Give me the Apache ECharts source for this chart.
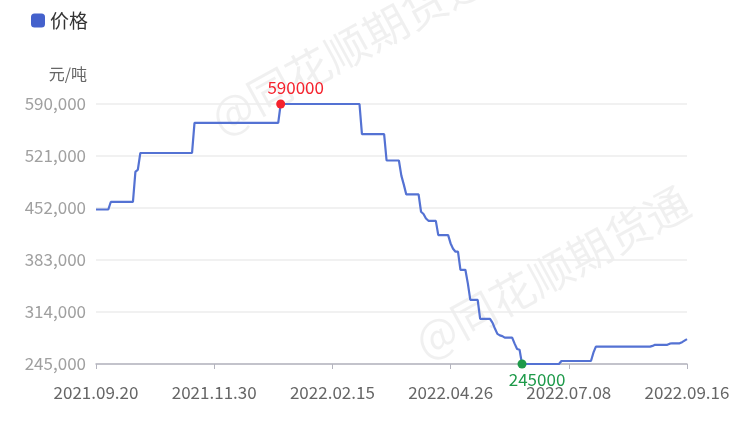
<!DOCTYPE html>
<html>
<head>
<meta charset="utf-8">
<script src="https://cdn.jsdelivr.net/npm/echarts@6/dist/echarts.min.js"></script>
<style>
html,body{margin:0;padding:0;background:#fff;}
#chart{width:750px;height:421px;}
</style>
</head>
<body>
<div id="chart"></div>
<script>
// Tick labels shown on the x axis
var tickLabels = ['2021.09.20', '2021.11.30', '2022.02.15', '2022.04.26', '2022.07.08', '2022.09.16'];
// Y axis ticks
var yMin = 245000, yMax = 590000, yStep = 69000;
// Days without a quote
var skipDays = ['2021-10-01', '2021-10-04', '2021-10-05',
  '2021-12-31', '2022-01-03', '2022-01-31', '2022-02-01', '2022-02-02', '2022-02-03', '2022-02-04',
  '2022-04-04', '2022-04-05',
  '2022-05-02', '2022-05-03', '2022-05-04', '2022-05-05', '2022-06-03',
  '2022-09-09', '2022-09-12'];
// Price series (元/吨), one value per quote day
var prices = [
  450000, 450000, 450000, 450000, 450000, 450000,
  460000, 460000, 460000, 460000, 460000, 460000, 460000, 460000, 460000, 460000,
  500000, 503000,
  525000, 525000, 525000, 525000, 525000, 525000, 525000, 525000, 525000, 525000, 525000,
  525000, 525000, 525000, 525000, 525000, 525000, 525000, 525000, 525000, 525000, 525000,
  565000, 565000, 565000, 565000, 565000, 565000, 565000, 565000, 565000, 565000,
  565000, 565000, 565000, 565000, 565000, 565000, 565000, 565000, 565000, 565000,
  565000, 565000, 565000, 565000, 565000, 565000, 565000, 565000, 565000, 565000,
  565000, 565000, 565000, 565000, 565000,
  590000, 590000, 590000, 590000, 590000, 590000, 590000, 590000, 590000, 590000, 590000,
  590000, 590000, 590000, 590000, 590000, 590000, 590000, 590000, 590000, 590000, 590000,
  590000, 590000, 590000, 590000, 590000, 590000, 590000, 590000, 590000, 590000, 590000,
  550000, 550000, 550000, 550000, 550000, 550000, 550000, 550000, 550000, 550000,
  515000, 515000, 515000, 515000, 515000, 515000,
  495000, 483000,
  470000, 470000, 470000, 470000, 470000, 470000,
  447000, 444000, 438000,
  435000, 435000, 435000, 435000,
  416000, 416000, 416000, 416000, 416000,
  405000, 398000, 394000, 394000,
  370000, 370000, 370000,
  352000,
  330000, 330000, 330000, 330000,
  305000, 305000, 305000, 305000, 305000,
  300000, 292000, 285000, 283000, 282000,
  280000, 280000, 280000, 280000,
  272000, 265000, 264000,
  245000, 245000, 245000, 245000, 245000, 245000, 245000, 245000,
  245000, 245000, 245000, 245000, 245000, 245000, 245000, 245000,
  249000, 249000, 249000, 249000, 249000, 249000, 249000, 249000, 249000, 249000, 249000, 249000, 249000,
  260000,
  268000, 268000, 268000, 268000, 268000, 268000, 268000, 268000, 268000, 268000, 268000, 268000,
  268000, 268000, 268000, 268000, 268000, 268000, 268000, 268000, 268000, 268000, 268000,
  269000,
  270500, 270500, 270500, 270500, 270500, 270500,
  272000,
  272500, 272500, 272500, 272500,
  274000, 276000, 278000
];

// Build quote-day category list (weekdays, minus skipped days)
function buildDays(startStr, endStr) {
  var out = [];
  var d = new Date(startStr + 'T00:00:00Z');
  var end = new Date(endStr + 'T00:00:00Z');
  while (d <= end) {
    var wd = d.getUTCDay();
    var y = d.getUTCFullYear();
    var m = ('0' + (d.getUTCMonth() + 1)).slice(-2);
    var dd = ('0' + d.getUTCDate()).slice(-2);
    var iso = y + '-' + m + '-' + dd;
    if (wd !== 0 && wd !== 6 && skipDays.indexOf(iso) < 0) out.push(y + '.' + m + '.' + dd);
    d = new Date(d.getTime() + 86400000);
  }
  return out;
}
var categories = buildDays('2021-09-20', '2022-09-16');

function fmtThousands(v) {
  return String(v).replace(/\B(?=(\d{3})+(?!\d))/g, ',');
}
function isTick(idx, val) { return tickLabels.indexOf(val) >= 0; }

var FONT = '"Noto Sans CJK SC", "Noto Sans", sans-serif';
var lineColor = '#5472d3';

var chart = echarts.init(document.getElementById('chart'));
chart.setOption({
  animation: false,
  textStyle: { fontFamily: FONT },
  legend: {
    left: 31, top: 11, padding: 0,
    itemWidth: 14, itemHeight: 14,
    icon: 'roundRect',
    itemStyle: { color: '#4461cc' },
    textStyle: { fontSize: 19, color: '#333', fontFamily: FONT },
    data: ['价格']
  },
  grid: { left: 96, right: 63, top: 104, bottom: 57 },
  graphic: [
    { type: 'text', x: 348, y: 48, rotation: 0.5, z: -10, silent: true,
      style: { text: '@同花顺期货通', fontSize: 44, fontFamily: FONT, fill: 'rgba(0,0,0,0.06)', align: 'center', verticalAlign: 'middle' } },
    { type: 'text', x: 552, y: 272, rotation: 0.5, z: -10, silent: true,
      style: { text: '@同花顺期货通', fontSize: 44, fontFamily: FONT, fill: 'rgba(0,0,0,0.06)', align: 'center', verticalAlign: 'middle' } }
  ],
  xAxis: {
    type: 'category',
    boundaryGap: false,
    data: categories,
    axisLine: { lineStyle: { color: '#b4b4be', width: 1.5 } },
    axisTick: { interval: isTick, length: 5, lineStyle: { color: '#b4b4be' } },
    axisLabel: { interval: isTick, margin: 20, fontSize: 17, color: '#666', fontFamily: FONT },
    splitLine: { show: false }
  },
  yAxis: {
    type: 'value',
    min: yMin, max: yMax, interval: yStep,
    name: '元/吨',
    nameLocation: 'end',
    nameGap: 22,
    nameTextStyle: { fontSize: 16, color: '#666', align: 'right', padding: [0, 9, 0, 0], fontFamily: FONT },
    axisLine: { show: false },
    axisTick: { show: false },
    axisLabel: { margin: 10, fontSize: 17, color: '#a0a0a0', fontFamily: FONT, formatter: fmtThousands },
    splitLine: { lineStyle: { color: '#ececec', width: 1.5 } }
  },
  series: [{
    name: '价格',
    type: 'line',
    data: prices,
    showSymbol: false,
    symbol: 'none',
    color: lineColor,
    lineStyle: { width: 2.2, color: lineColor },
    markPoint: {
      symbol: 'circle',
      symbolSize: 9,
      data: [
        { type: 'max', itemStyle: { color: '#f5222d' },
          label: { show: true, position: 'top', distance: 3, offset: [15, 0], color: '#f5222d', fontSize: 17, fontFamily: FONT, formatter: '{c}' } },
        { type: 'min', itemStyle: { color: '#1e9a4a' },
          label: { show: true, position: 'bottom', distance: 3, offset: [15, 0], color: '#1e9a4a', fontSize: 17, fontFamily: FONT, formatter: '{c}' } }
      ]
    }
  }]
});
</script>
</body>
</html>
